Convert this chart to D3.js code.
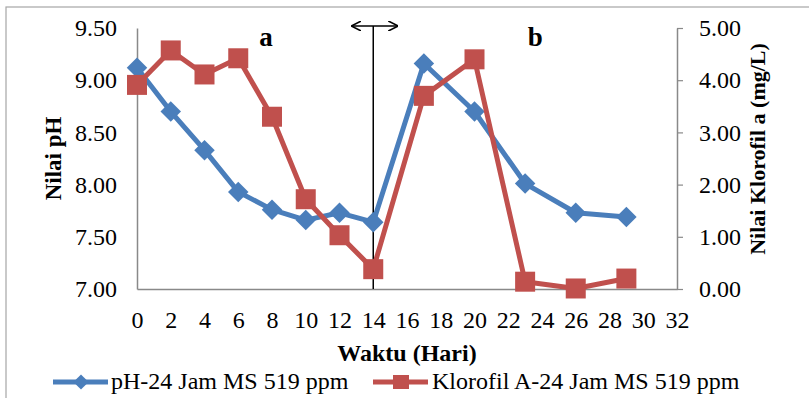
<!DOCTYPE html>
<html>
<head>
<meta charset="utf-8">
<script src="https://cdn.jsdelivr.net/npm/d3@7"></script>
</head>
<body style="margin:0;padding:0;background:#fff">
<svg id="chart" width="809" height="398" style="display:block"></svg>
<script>
// Sampling days (Hari)
const days = [0, 2, 4, 6, 8, 10, 12, 14, 17, 20, 23, 26, 29];
// pH values, 24 Jam MS 519 ppm
const phValues = [9.12, 8.70, 8.33, 7.93, 7.76, 7.66, 7.73, 7.64, 9.16, 8.70, 8.01, 7.73, 7.69];
// Chlorophyll-a values (mg/L), 24 Jam MS 519 ppm
const klorofilValues = [3.91, 4.57, 4.11, 4.42, 3.30, 1.72, 1.03, 0.38, 3.70, 4.40, 0.14, 0.01, 0.20];

const xTicks = [0, 2, 4, 6, 8, 10, 12, 14, 16, 18, 20, 22, 24, 26, 28, 30, 32];
const phTicks = [7.0, 7.5, 8.0, 8.5, 9.0, 9.5];
const klorofilTicks = [0, 1, 2, 3, 4, 5];

const seriesNames = ["pH-24 Jam MS 519 ppm", "Klorofil A-24 Jam MS 519 ppm"];
const phaseLabels = [{ t: "a", day: 7.65 }, { t: "b", day: 23.6 }];
const dividerDay = 14;

const BLUE = "#4a7ebb";
const RED = "#c0504d";
const AXIS = "#898989";
const SERIF = "Liberation Serif";

const svg = d3.select("#chart");

// Outer chart frame
svg.append("rect")
  .attr("x", 6).attr("y", 7)
  .attr("width", 820).attr("height", 420)
  .attr("fill", "none").attr("stroke", "#a6a6a6").attr("stroke-width", 1.2);

const plot = { left: 137, right: 677, top: 28, bottom: 289 };

const x = d3.scaleLinear().domain([0, 32]).range([plot.left, plot.right]);
const yL = d3.scaleLinear().domain([7, 9.5]).range([plot.bottom, plot.top]);
const yR = d3.scaleLinear().domain([0, 5]).range([plot.bottom, plot.top]);

function styleTicks(g) {
  g.attr("font-family", null).attr("font-size", null);
  g.select(".domain").attr("stroke", AXIS).attr("stroke-width", 1.5);
  g.selectAll(".tick line").attr("stroke", AXIS).attr("stroke-width", 1.2);
  g.selectAll("text").style("font-family", SERIF).style("font-size", "24px").attr("fill", "#000");
}

// Left axis (pH)
svg.append("g")
  .attr("transform", `translate(${plot.left},0)`)
  .call(d3.axisLeft(yL).tickValues(phTicks).tickFormat(d3.format(".2f")).tickSize(0).tickPadding(20))
  .call(styleTicks);

// Right axis (chlorophyll)
svg.append("g")
  .attr("transform", `translate(${plot.right},0)`)
  .call(d3.axisRight(yR).tickValues(klorofilTicks).tickFormat(d3.format(".2f")).tickSize(6).tickSizeOuter(0).tickPadding(16))
  .call(styleTicks);

// Bottom axis (days)
svg.append("g")
  .attr("transform", `translate(0,${plot.bottom})`)
  .call(d3.axisBottom(x).tickValues(xTicks).tickSize(0).tickPadding(22))
  .call(styleTicks);

function title(sel, size) {
  return sel.style("font-family", SERIF).style("font-size", size + "px")
    .style("font-weight", "bold").attr("text-anchor", "middle").attr("fill", "#000");
}

// Axis titles
svg.append("text")
  .attr("transform", `translate(61,${(plot.top + plot.bottom) / 2}) rotate(-90)`)
  .call(title, 23).text("Nilai pH");

svg.append("text")
  .attr("transform", `translate(765,149) rotate(-90)`)
  .call(title, 22).text("Nilai Klorofil a (mg/L)");

svg.append("text")
  .attr("x", 407).attr("y", 361)
  .call(title, 24).text("Waktu (Hari)");

// Phase divider with double-headed arrow
const xd = x(dividerDay);
svg.append("defs").html(`
  <marker id="ah" viewBox="0 0 10 10" refX="9" refY="5" markerWidth="10" markerHeight="10" markerUnits="userSpaceOnUse" orient="auto-start-reverse">
    <path d="M0,0 L10,5 L0,10" fill="none" stroke="#000" stroke-width="1.6"/>
  </marker>`);
svg.append("line")
  .attr("x1", xd).attr("x2", xd).attr("y1", 26).attr("y2", plot.bottom)
  .attr("stroke", "#000").attr("stroke-width", 1.5);
svg.append("line")
  .attr("x1", xd - 21).attr("x2", xd + 24).attr("y1", 26).attr("y2", 26)
  .attr("stroke", "#000").attr("stroke-width", 1.5)
  .attr("marker-start", "url(#ah)").attr("marker-end", "url(#ah)");

// Phase labels
svg.selectAll("text.phase").data(phaseLabels).join("text")
  .attr("class", "phase")
  .attr("x", d => x(d.day)).attr("y", 46)
  .call(title, 27)
  .text(d => d.t);

const phData = days.map((d, i) => ({ d, v: phValues[i] }));
const klData = days.map((d, i) => ({ d, v: klorofilValues[i] }));

const diamond = d3.symbol().type(d3.symbolSquare).size(210);
const legendDiamond = d3.symbol().type(d3.symbolSquare).size(115);

// pH series
svg.append("path")
  .datum(phData)
  .attr("fill", "none").attr("stroke", BLUE).attr("stroke-width", 5)
  .attr("stroke-linejoin", "round")
  .attr("d", d3.line().x(p => x(p.d)).y(p => yL(p.v)));

svg.selectAll("path.ph-pt").data(phData).join("path")
  .attr("class", "ph-pt")
  .attr("transform", p => `translate(${x(p.d)},${yL(p.v)}) rotate(45)`)
  .attr("d", diamond)
  .attr("fill", BLUE);

// Chlorophyll series
svg.append("path")
  .datum(klData)
  .attr("fill", "none").attr("stroke", RED).attr("stroke-width", 5)
  .attr("stroke-linejoin", "round")
  .attr("d", d3.line().x(p => x(p.d)).y(p => yR(p.v)));

svg.selectAll("rect.kl-pt").data(klData).join("rect")
  .attr("class", "kl-pt")
  .attr("x", p => x(p.d) - 10).attr("y", p => yR(p.v) - 10)
  .attr("width", 20).attr("height", 20)
  .attr("fill", RED);

// Legend
const lg = svg.append("g");
const ly = 382;
lg.append("line").attr("x1", 53).attr("x2", 108).attr("y1", ly).attr("y2", ly)
  .attr("stroke", BLUE).attr("stroke-width", 5);
lg.append("path").attr("transform", `translate(81,${ly}) rotate(45)`).attr("d", legendDiamond).attr("fill", BLUE);
lg.append("text").attr("x", 111).attr("y", ly + 7)
  .style("font-family", SERIF).style("font-size", "24px").text(seriesNames[0]);

lg.append("line").attr("x1", 373).attr("x2", 428).attr("y1", ly).attr("y2", ly)
  .attr("stroke", RED).attr("stroke-width", 5);
lg.append("rect").attr("x", 393).attr("y", ly - 7).attr("width", 16).attr("height", 14).attr("fill", RED);
lg.append("text").attr("x", 432).attr("y", ly + 7)
  .style("font-family", SERIF).style("font-size", "24px").text(seriesNames[1]);
</script>
</body>
</html>
